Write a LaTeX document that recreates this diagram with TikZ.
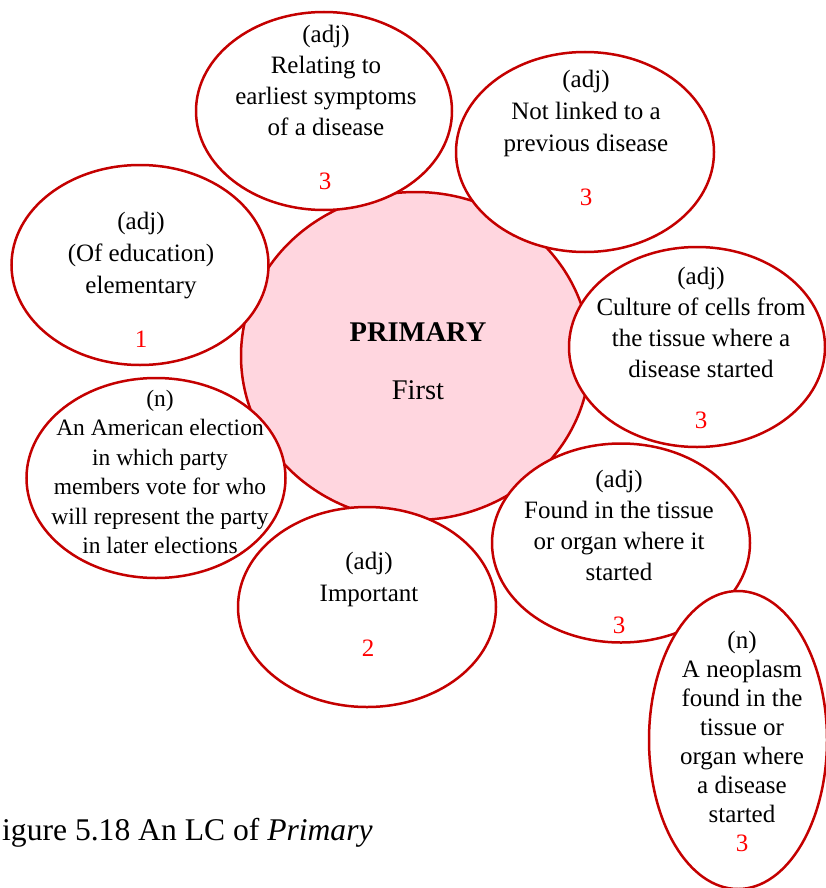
\documentclass[tikz,border=0pt]{standalone}
\usepackage{fontspec}
\setmainfont{Liberation Serif}
\usetikzlibrary{shapes.geometric}
\definecolor{rim}{RGB}{196,0,0}
\definecolor{core}{RGB}{255,214,223}
\definecolor{score}{RGB}{255,0,0}
\tikzset{
  sense/.style={ellipse, draw=rim, line width=2.5pt, fill=white, inner sep=0pt},
  gloss/.style={align=center, inner sep=0pt, font=\fontsize{25}{31}\selectfont},
  level/.style={inner sep=0pt, text=score, font=\fontsize{25}{30}\selectfont},
}
\begin{document}
\begin{tikzpicture}[x=1pt,y=-1pt]
\useasboundingbox (0,0) rectangle (826,888);
\clip (0,0) rectangle (826,888);

% central word
\node[sense, fill=core, minimum width=349pt, minimum height=328pt] (hub) at (415.5,356) {};
\node[align=center, inner sep=0pt, font=\fontsize{28.5}{58}\selectfont] (hubtext) at (418,361.5)
  {\textbf{PRIMARY}\\First};

% senses, drawn over the central ellipse
\node[sense, minimum width=256pt, minimum height=198pt] (early) at (324,111) {};
\node[gloss] (earlytext) at (326,80) {(adj)\\Relating to\\earliest symptoms\\of a disease};
\node[level] (earlylevel) at (325,181) {3};

\node[sense, minimum width=258pt, minimum height=200pt] (indep) at (585,152) {};
\node[gloss, font=\fontsize{25}{32}\selectfont] (indeptext) at (586,113.5) {(adj)\\Not linked to a\\previous disease};
\node[level] (indeplevel) at (586,197) {3};

\node[sense, minimum width=257pt, minimum height=200pt] (school) at (140,265) {};
\node[gloss, font=\fontsize{25}{32}\selectfont] (schooltext) at (141,256) {(adj)\\(Of education)\\elementary};
\node[level] (schoollevel) at (141,339) {1};

\node[sense, minimum width=256pt, minimum height=200pt] (culture) at (697,347) {};
\node[gloss] (culturetext) at (701,322) {(adj)\\Culture of cells from\\the tissue where a\\disease started};
\node[level] (culturelevel) at (701,420) {3};

\node[sense, minimum width=259pt, minimum height=200pt] (vote) at (156,478) {};
\node[gloss, font=\fontsize{23.5}{29.5}\selectfont] (votetext) at (160,472)
  {(n)\\An American election\\in which party\\members vote for who\\will represent the party\\in later elections};

\node[sense, minimum width=258pt, minimum height=200pt] (main) at (367,607) {};
\node[gloss, font=\fontsize{25}{32}\selectfont] (maintext) at (369,579.5) {(adj)\\Important};
\node[level] (mainlevel) at (368,648) {2};

\node[sense, minimum width=258pt, minimum height=199pt] (origin) at (621,543) {};
\node[gloss] (origintext) at (619,525) {(adj)\\Found in the tissue\\or organ where it\\started};
\node[level] (originlevel) at (619,625) {3};

\node[sense, minimum width=178pt, minimum height=298pt] (tumour) at (738,740) {};
\node[gloss, font=\fontsize{25}{29}\selectfont] (tumourtext) at (742,727)
  {(n)\\A neoplasm\\found in the\\tissue or\\organ where\\a disease\\started};
\node[level] (tumourlevel) at (742,843) {3};

% caption
\node[anchor=base west, inner sep=0pt, font=\fontsize{31.6}{36}\selectfont] (caption) at (2,840)
  {igure 5.18 An LC of \textit{Primary}};
\end{tikzpicture}
\end{document}
